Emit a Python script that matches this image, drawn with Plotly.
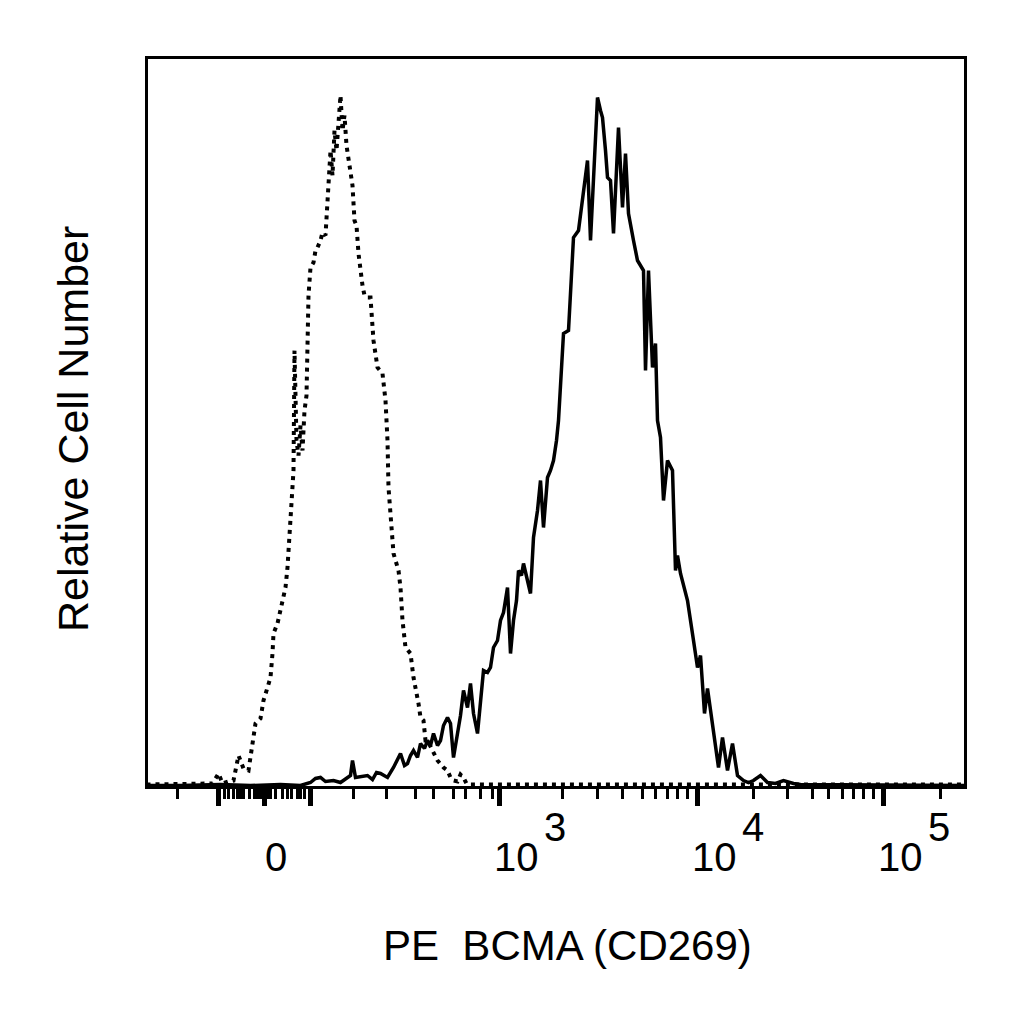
import plotly.graph_objects as go

# display channels across the biexponential PE axis, relative counts on y
iso_channel = [0, 54, 66, 72, 76, 82, 87, 92, 97, 102, 104, 107, 109, 114, 117, 121, 124, 126, 127,
               131, 134, 136, 139, 141, 143, 145, 147, 148, 150, 152, 154, 156, 158, 160, 161, 162,
               164, 167, 169, 171, 174, 176, 179, 181, 182, 184, 186, 188, 190, 192, 194, 196, 198,
               200, 202, 204, 206, 208, 210, 212, 214, 216, 218, 221, 224, 227, 231, 236, 239, 241,
               242, 244, 247, 252, 254, 256, 259, 264, 267, 272, 274, 277, 279, 281, 287, 291, 297,
               301, 304, 307, 311, 314, 317, 320, 324, 360, 819]
iso_count = [3, 3, 4, 14, 4, 6, 7, 32, 19, 17, 29, 47, 64, 69, 87, 100, 110, 134, 154,
             164, 177, 185, 200, 220, 257, 287, 317, 437, 347, 332, 362, 337, 377, 392, 437, 492,
             520, 525, 537, 540, 547, 555, 552, 587, 614, 637, 612, 657, 637, 662, 692, 657, 672,
             642, 627, 612, 602, 567, 562, 534, 517, 502, 492, 490, 490, 447, 420, 414, 387, 347,
             300, 267, 234, 217, 200, 167, 140, 134, 110, 84, 70, 67, 47, 47, 35, 27, 20,
             17, 10, 7, 6, 13, 10, 4, 3, 3, 3]

bcma_channel = [0, 34, 74, 104, 134, 154, 164, 169, 174, 179, 187, 194, 204, 206, 209, 214, 221,
                226, 230, 234, 241, 247, 254, 258, 261, 264, 267, 271, 274, 278, 281, 284, 287,
                291, 294, 297, 301, 304, 307, 311, 314, 317, 321, 324, 327, 331, 334, 337, 341,
                344, 347, 351, 354, 357, 361, 364, 367, 370, 372, 375, 377, 381, 384, 387, 391,
                394, 397, 401, 404, 407, 410, 412, 414, 417, 422, 424, 427, 432, 436, 441, 444,
                448, 451, 454, 456, 459, 461, 464, 467, 472, 474, 476, 479, 482, 487, 491, 497,
                499, 502, 506, 509, 511, 514, 517, 521, 526, 529, 531, 534, 537, 541, 547, 551,
                554, 558, 561, 567, 572, 576, 581, 586, 591, 597, 602, 607, 614, 621, 629, 637,
                647, 654, 819]
bcma_count = [2, 2, 3, 2, 3, 2, 5, 9, 10, 6, 7, 5, 12, 27, 10, 11, 12,
              8, 15, 14, 10, 20, 34, 22, 24, 32, 37, 30, 44, 39, 47, 42, 54,
              42, 47, 62, 70, 64, 30, 54, 72, 97, 80, 104, 74, 54, 87, 117, 115,
              120, 140, 147, 167, 175, 200, 134, 167, 187, 217, 212, 224, 207, 194, 250, 277,
              307, 260, 310, 317, 327, 347, 367, 397, 454, 457, 497, 550, 557, 587, 627, 547,
              627, 690, 677, 670, 637, 610, 607, 554, 660, 617, 580, 634, 574, 547, 527, 517,
              417, 517, 420, 444, 367, 350, 287, 327, 317, 217, 232, 214, 202, 187, 147, 120,
              132, 74, 99, 54, 20, 50, 17, 44, 12, 7, 5, 7, 12, 5, 4, 7,
              4, 3, 2]

# axis ticks (channels): -100, 0, 100, 10^3, 10^4, 10^5 and the minor ones
major_ticks = [72, 118, 164, 353, 551, 737]
minor_ticks = [31, 78, 82, 87, 91, 94, 97, 103, 108, 111, 114, 121, 124, 129, 136, 141, 145,
               151, 154, 158, 207, 240, 269, 287, 307, 319, 334, 346, 416, 451, 476, 496,
               509, 521, 531, 541, 607, 641, 666, 682, 696, 707, 717, 727, 794]
tick_base = ["0", "10", "10", "10"]
tick_exp = ["", "3", "4", "5"]
label_x = [129, 370, 568, 754]

FONT = "Liberation Sans, Arial, sans-serif"

fig = go.Figure()
fig.add_trace(go.Scatter(x=iso_channel, y=iso_count, mode="lines",
                         line=dict(color="black", width=4, dash="4px,5px")))
fig.add_trace(go.Scatter(x=bcma_channel, y=bcma_count, mode="lines",
                         line=dict(color="black", width=3.5)))

annotations = []
for base, exp, x in zip(tick_base, tick_exp, label_x):
    annotations.append(dict(x=x, y=-0.098, xref="x", yref="paper", text=base,
                            showarrow=False, xanchor="center", yanchor="middle",
                            font=dict(family=FONT, size=40, color="black")))
    if exp:
        annotations.append(dict(x=x + 38, y=-0.057, xref="x", yref="paper", text=exp,
                                showarrow=False, xanchor="center", yanchor="middle",
                                font=dict(family=FONT, size=40, color="black")))

annotations.append(dict(x=0.5135, y=-0.219, xref="paper", yref="paper",
                        text="PE\u00a0\u00a0BCMA (CD269)", showarrow=False,
                        xanchor="center", yanchor="middle",
                        font=dict(family=FONT, size=42, color="black")))
annotations.append(dict(x=-0.092, y=0.491, xref="paper", yref="paper",
                        text="Relative Cell Number", textangle=-90, showarrow=False,
                        xanchor="center", yanchor="middle",
                        font=dict(family=FONT, size=43, color="black")))

fig.update_layout(
    width=1024, height=1024,
    margin=dict(l=140, r=68, t=51, b=246),
    plot_bgcolor="white", paper_bgcolor="white",
    showlegend=False,
    annotations=annotations,
)

fig.update_xaxes(
    range=[1.5, 817.5], showgrid=False, zeroline=False,
    showline=True, linecolor="black", linewidth=3, mirror=True,
    tickmode="array", tickvals=major_ticks, ticks="outside",
    ticklen=17, tickwidth=5, tickcolor="black", showticklabels=False,
    minor=dict(tickmode="array", tickvals=minor_ticks, ticks="outside",
               ticklen=10, tickwidth=3, tickcolor="black", showgrid=False),
)
fig.update_yaxes(
    range=[1.5, 728.5], showgrid=False, zeroline=False,
    showline=True, linecolor="black", linewidth=3, mirror=True,
    ticks="", showticklabels=False,
)

fig.write_html("out.html")
